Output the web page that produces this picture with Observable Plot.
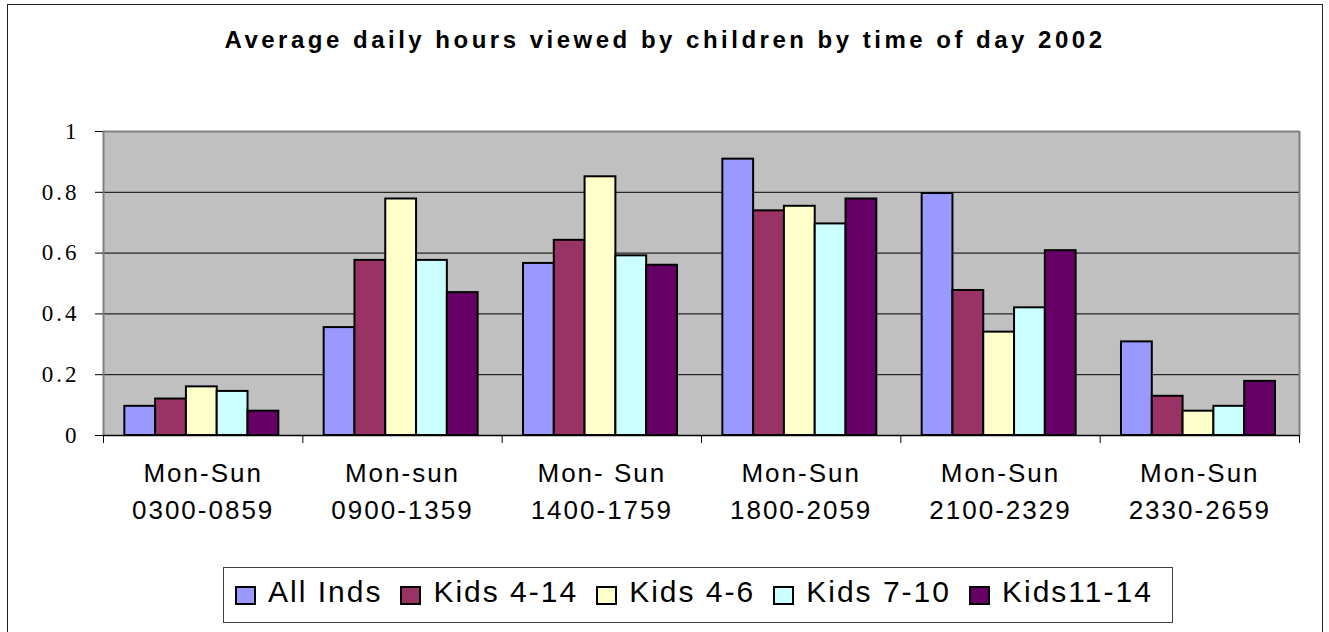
<!DOCTYPE html>
<html>
<head>
<meta charset="utf-8">
<script src="https://cdn.jsdelivr.net/npm/d3@7"></script>
<script src="https://cdn.jsdelivr.net/npm/@observablehq/plot@0.6"></script>
<style>
  html, body { margin: 0; padding: 0; background: #fff; width: 1329px; height: 632px; overflow: hidden; }
  #frame { position: absolute; left: 7px; top: 4px; width: 1316px; height: 640px; border: 1px solid #222; box-sizing: border-box; }
  #title { position: absolute; left: 7px; top: 28px; width: 1316px; text-align: center;
    font-family: "Liberation Sans", Arial, sans-serif; font-weight: bold; font-size: 24px; line-height: 24px;
    letter-spacing: 3.5px; color: #000; }
  #chart { position: absolute; left: 0; top: 100px; }
  #chart svg { overflow: visible; }
  g[aria-label="x-axis tick label"] text { letter-spacing: 2px; }
  #legend { position: absolute; left: 223px; top: 567px; width: 950px; height: 56px; box-sizing: border-box;
    border: 1px solid #404040; display: flex; align-items: center; padding-left: 11px;
    font-family: "Liberation Sans", Arial, sans-serif; font-size: 30px; letter-spacing: 2px; color: #000; }
  .item { display: flex; align-items: center; margin-left: 18px; }
  .item:first-child { margin-left: 0; }
  .sw { width: 21px; height: 19px; box-sizing: border-box; border: 2px solid #000; margin-right: 12px; }
  .lbl { position: relative; top: -3px; line-height: 30px; white-space: pre; }
</style>
</head>
<body>
<div id="frame"></div>
<div id="title"></div>
<div id="chart"></div>
<div id="legend"></div>
<script>
// ---- data ----
const titleText = "Average daily hours viewed by children by time of day 2002";
const catLine1 = ["Mon-Sun", "Mon-sun", "Mon- Sun", "Mon-Sun", "Mon-Sun", "Mon-Sun"];
const catLine2 = ["0300-0859", "0900-1359", "1400-1759", "1800-2059", "2100-2329", "2330-2659"];
const seriesNames = ["All Inds", "Kids 4-14", "Kids 4-6", "Kids 7-10", "Kids11-14"];
const allInds   = [0.096, 0.355, 0.566, 0.909, 0.796, 0.308];
const kids4_14  = [0.120, 0.576, 0.642, 0.739, 0.477, 0.129];
const kids4_6   = [0.160, 0.778, 0.851, 0.754, 0.340, 0.080];
const kids7_10  = [0.145, 0.576, 0.591, 0.696, 0.420, 0.096];
const kids11_14 = [0.080, 0.470, 0.560, 0.778, 0.608, 0.178];
const yTicks = [0, 0.2, 0.4, 0.6, 0.8, 1];
const seriesColors = ["#9999FF", "#993366", "#FFFFCC", "#CCFFFF", "#660066"];

// ---- layout constants (in category units) ----
const groupInset = 0.107;
const barW = 0.1545;

const seriesValues = [allInds, kids4_14, kids4_6, kids7_10, kids11_14];
const rows = [];
catLine2.forEach((c, ci) => {
  seriesValues.forEach((vals, si) => {
    rows.push({ci, si, series: seriesNames[si], value: vals[ci]});
  });
});

document.getElementById("title").textContent = titleText;

const nCat = catLine2.length;
const centers = d3.range(nCat).map(i => i + 0.5);
const bounds = d3.range(nCat + 1);

const chart = Plot.plot({
  width: 1329,
  height: 440,
  marginLeft: 103,
  marginRight: 30,
  marginTop: 31,
  marginBottom: 105,
  style: {fontFamily: "Liberation Sans, Arial, sans-serif", color: "#000", background: "transparent"},
  x: {type: "linear", domain: [0, nCat], label: null},
  y: {domain: [0, 1], label: null},
  color: {domain: seriesNames, range: seriesColors},
  marks: [
    Plot.frame({fill: "#C0C0C0", stroke: null}),
    Plot.gridY(yTicks.filter(t => t > 0 && t < 1), {stroke: "#000", strokeOpacity: 1, strokeWidth: 1}),
    Plot.rect(rows, {
      x1: d => d.ci + groupInset + d.si * barW,
      x2: d => d.ci + groupInset + (d.si + 1) * barW,
      y1: 0,
      y2: "value",
      fill: "series",
      stroke: "#000",
      strokeWidth: 2
    }),
    Plot.ruleY([1], {stroke: "#808080", strokeWidth: 2}),
    Plot.ruleX([nCat], {stroke: "#808080", strokeWidth: 2}),
    Plot.ruleX([0], {stroke: "#808080", strokeWidth: 2}),
    Plot.ruleY([0], {stroke: "#000", strokeWidth: 1.5}),
    Plot.axisY(yTicks, {
      tickSize: 8, tickPadding: 16, stroke: "#000",
      tickFormat: d => String(d),
      fontFamily: "Liberation Serif", fontSize: 23, label: null
    }),
    Plot.axisX(bounds, {tickSize: 8, stroke: "#000", tickFormat: () => "", label: null}),
    Plot.axisX(centers, {tickSize: 0, tickPadding: 28, tickFormat: d => catLine1[Math.floor(d)], fontSize: 26, label: null}),
    Plot.axisX(centers, {tickSize: 0, tickPadding: 65, tickFormat: d => catLine2[Math.floor(d)], fontSize: 26, label: null})
  ]
});
document.getElementById("chart").appendChild(chart);

// y tick labels: serif, slightly spaced
chart.querySelectorAll('g[aria-label="y-axis tick label"] text').forEach(t => {
  t.style.fontFamily = "'Liberation Serif', 'Times New Roman', serif";
  t.style.fontSize = "23px";
  t.style.letterSpacing = "3px";
});

// legend
const legend = document.getElementById("legend");
seriesNames.forEach((name, i) => {
  const item = document.createElement("div");
  item.className = "item";
  const sw = document.createElement("div");
  sw.className = "sw";
  sw.style.background = seriesColors[i];
  const lbl = document.createElement("span");
  lbl.className = "lbl";
  lbl.textContent = name;
  item.appendChild(sw);
  item.appendChild(lbl);
  legend.appendChild(item);
});
</script>
</body>
</html>
